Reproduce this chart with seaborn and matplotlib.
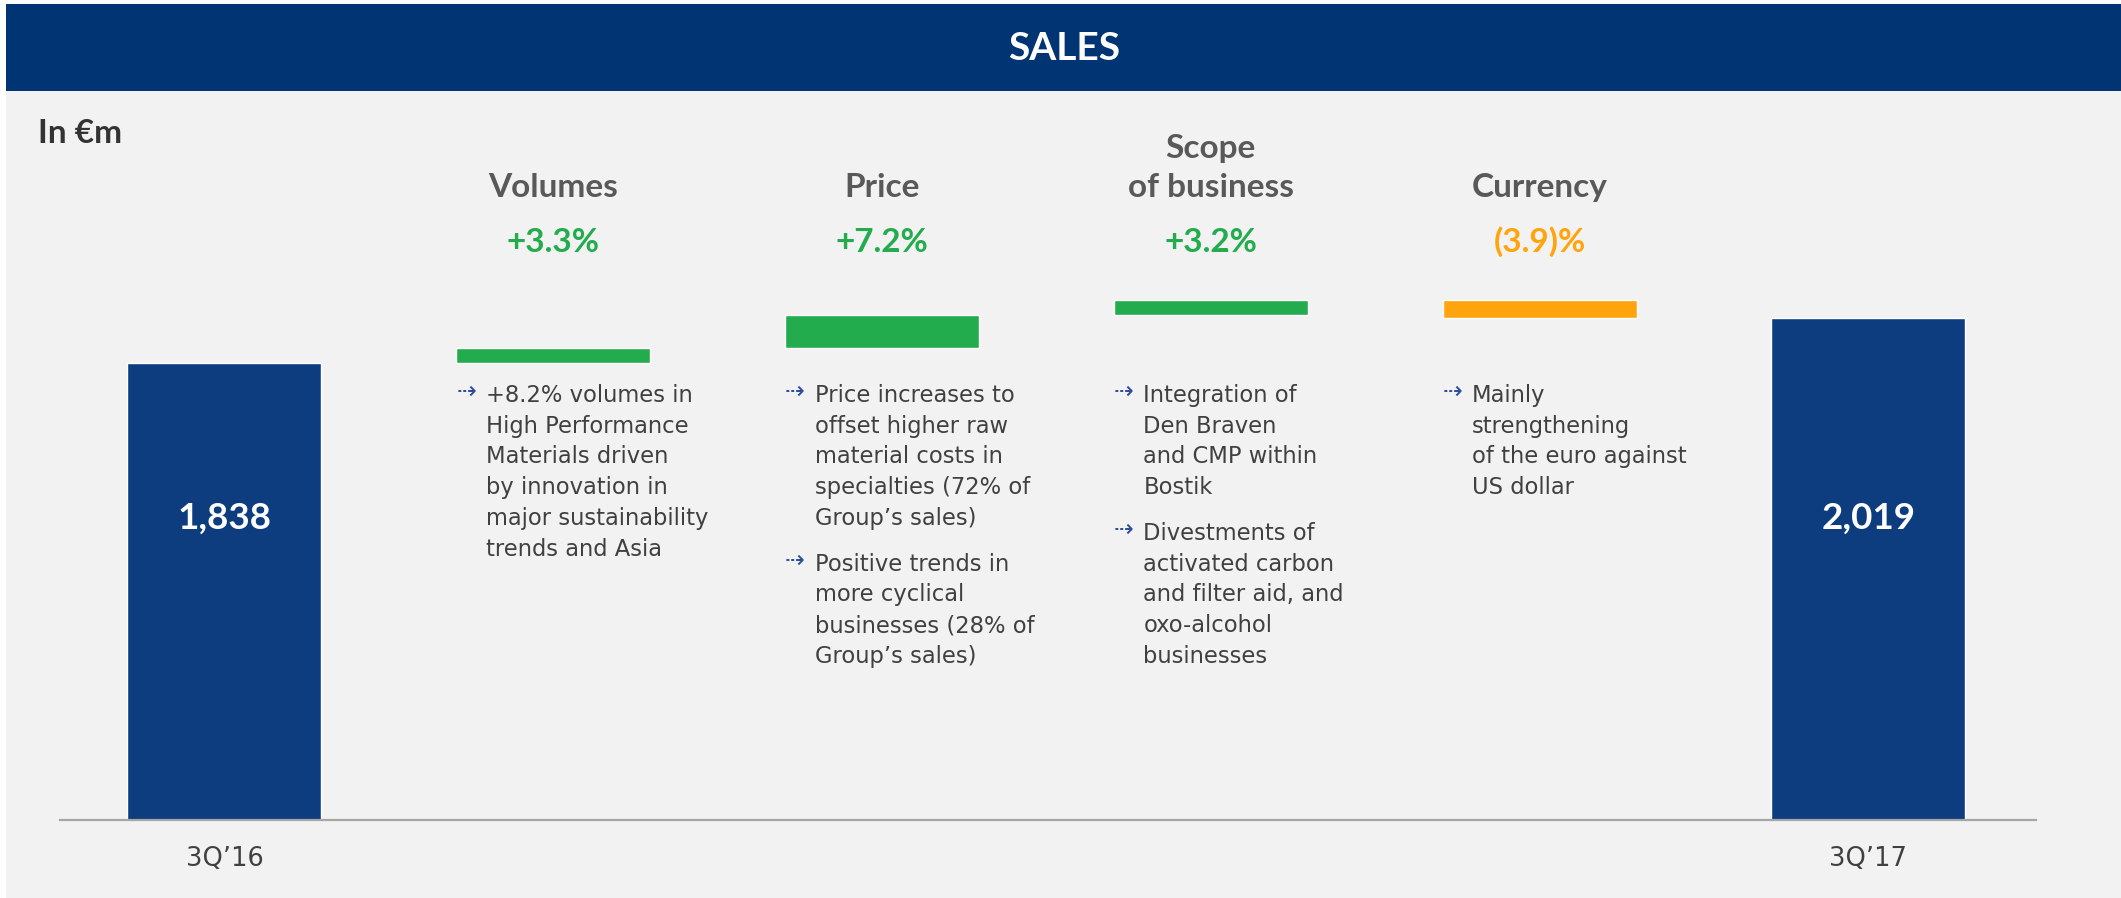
import numpy as np
import pandas as pd
import matplotlib.pyplot as plt
import matplotlib.transforms as mtransforms
from matplotlib.patches import Rectangle
import seaborn as sns

# data
categories = ["3Q’16", "Volumes", "Price", "Scope\nof business", "Currency", "3Q’17"]
start_value = 1838
end_value = 2019
deltas = [61, 132, 59, -71]
pct_labels = ["+3.3%", "+7.2%", "+3.2%", "(3.9)%"]
notes = [
    [["+8.2% volumes in", "High Performance", "Materials driven", "by innovation in",
      "major sustainability", "trends and Asia"]],
    [["Price increases to", "offset higher raw", "material costs in", "specialties (72% of",
      "Group’s sales)"],
     ["Positive trends in", "more cyclical", "businesses (28% of", "Group’s sales)"]],
    [["Integration of", "Den Braven", "and CMP within", "Bostik"],
     ["Divestments of", "activated carbon", "and filter aid, and", "oxo-alcohol", "businesses"]],
    [["Mainly", "strengthening", "of the euro against", "US dollar"]],
]

navy = "#0D3D7E"
green = "#22AC4E"
orange = "#FFA40C"
head_grey = "#595959"
body_grey = "#404040"
bg = "#F2F2F2"

sns.set_theme(style="white")
plt.rcParams['font.family'] = ['DejaVu Sans']

W, H = 2121, 898
fig = plt.figure(figsize=(W / 100, H / 100), dpi=100)
fig.patch.set_facecolor("white")

def fy(px):
    return 1 - px / H

# slide background + title band
fig.patches.append(Rectangle((6 / W, 0), 1, fy(91), transform=fig.transFigure,
                             facecolor=bg, edgecolor="none", zorder=-2))
fig.patches.append(Rectangle((6 / W, fy(91)), 1, (91 - 4) / H, transform=fig.transFigure,
                             facecolor="#003473", edgecolor="none", zorder=-1))
fig.text(1064 / W, fy(49), "SALES", ha="center", va="center", color="white",
         fontsize=28, fontweight="bold", family=["Lato", "DejaVu Sans"])
fig.text(38 / W, fy(143), "In €m", ha="left", va="baseline", color="#333333",
         fontsize=24, fontweight="bold", family=["Lato", "DejaVu Sans"])

ax = fig.add_axes([60 / W, fy(820), (2036 - 60) / W, (820 - 100) / H])
ax.set_facecolor("none")

bar_w = 0.59
totals = pd.DataFrame({"period": [categories[0], categories[-1]],
                       "sales": [start_value, end_value]})
sns.barplot(data=totals, x="period", y="sales", order=categories, color=navy,
            saturation=1, width=bar_w, ax=ax)

running = start_value + np.cumsum(deltas)
prev = np.concatenate([[start_value], running[:-1]])
bottoms = np.minimum(prev, running)
colors = [green if d > 0 else orange for d in deltas]
ax.bar(np.arange(1, 5), np.abs(deltas), bottom=bottoms, width=bar_w, color=colors)

ax.set_xlim(-0.5, 5.51)
ax.set_ylim(0, 720 / 0.2486)
ax.set_yticks([])
ax.set_xlabel("")
ax.set_ylabel("")
ax.set_xticks([0, 5], [categories[0], categories[-1]])
ax.tick_params(axis="x", length=0, pad=19, labelsize=18.5, labelcolor=body_grey)
for s in ["top", "left", "right"]:
    ax.spines[s].set_visible(False)
ax.spines["bottom"].set_color("#A6A6A6")
ax.spines["bottom"].set_linewidth(1.6)

trans = mtransforms.blended_transform_factory(ax.transData, fig.transFigure)

# value labels inside totals
for x, v in [(0, start_value), (5, end_value)]:
    ax.text(x, fy(529), f"{v:,}", transform=trans, ha="center", va="baseline",
            color="white", fontsize=26.5, fontweight="bold", family=["Lato", "DejaVu Sans"])

# headers and percentages
for i, (name, pct, d) in enumerate(zip(categories[1:5], pct_labels, deltas)):
    x = i + 1
    lines = name.split("\n")
    for k, line in enumerate(reversed(lines)):
        ax.text(x, fy(197) + k * 39 / H, line, transform=trans, ha="center",
                va="baseline", color=head_grey, fontsize=24, fontweight="bold",
                family=["Lato", "DejaVu Sans"])
    ax.text(x, fy(252), pct, transform=trans, ha="center", va="baseline",
            color=green if d > 0 else orange, fontsize=24, fontweight="bold",
            family=["Lato", "DejaVu Sans"])

# bullet notes
pitch = 30.7
for i, paras in enumerate(notes):
    left = i + 1 - bar_w / 2
    y = 402
    for para in paras:
        ax.text(left, fy(y - 3), "⇢", transform=trans, ha="left", va="baseline",
                color="#2E4D9B", fontsize=17)
        for line in para:
            ax.text(left + 0.09, fy(y), line, transform=trans, ha="left",
                    va="baseline", color=body_grey, fontsize=16.3)
            y += pitch
        y += 46 - pitch

fig.savefig("out.png", dpi=100, facecolor=fig.get_facecolor())
